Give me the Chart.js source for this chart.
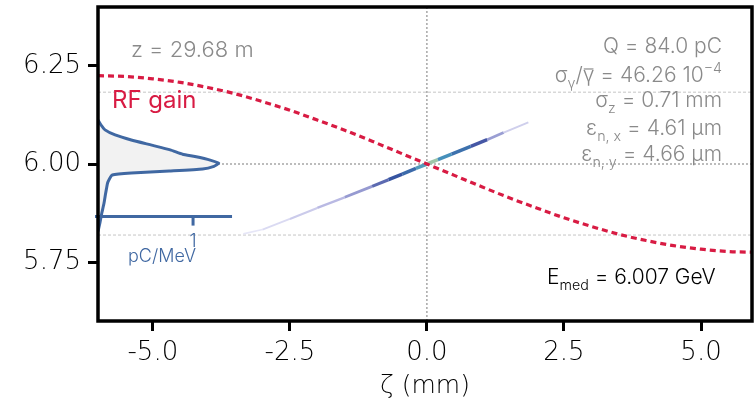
<!DOCTYPE html>
<html>
<head>
<meta charset="utf-8">
<script src="https://cdn.jsdelivr.net/npm/chart.js@4.4.0/dist/chart.umd.min.js"></script>
<style>
html, body { margin: 0; padding: 0; background: #fff; }
#wrap { width: 755px; height: 419px; }
</style>
</head>
<body>
<div id="wrap"><canvas id="chart" width="755" height="419"></canvas></div>
<script>
// RF gain curve: zeta (mm) -> energy (GeV)
const rfZeta = [-6, -5.5, -5, -4.5, -4, -3.5, -3, -2.5, -2, -1.5, -1, -0.5, 0, 0.5, 1, 1.5, 2, 2.5, 3, 3.5, 4, 4.5, 5, 5.5, 6];
const rfEnergy = [6.225, 6.223, 6.217, 6.208, 6.195, 6.179, 6.159, 6.137, 6.112, 6.086, 6.058, 6.029, 6.0, 5.971, 5.942, 5.914, 5.888, 5.863, 5.841, 5.821, 5.805, 5.792, 5.783, 5.777, 5.775];

// longitudinal phase space of the bunch (zeta, energy, relative density)
const beamZeta = [-3.35, -3.0, -2.5, -2.0, -1.5, -1.0, -0.7, -0.45, -0.2, 0.0, 0.2, 0.45, 0.8, 1.1, 1.4, 1.85];
const beamEnergy = [5.822, 5.833, 5.860, 5.888, 5.915, 5.943, 5.960, 5.974, 5.989, 6.0, 6.011, 6.025, 6.045, 6.062, 6.080, 6.106];
const beamDensity = [0.0, 0.06, 0.12, 0.2, 0.3, 0.42, 0.58, 0.7, 0.72, 1.0, 0.86, 0.8, 0.66, 0.45, 0.25, 0.04];

// energy spectrum (GeV -> pC/MeV)
const specEnergy = [6.112, 6.100, 6.087, 6.074, 6.061, 6.048, 6.036, 6.025, 6.019, 6.010, 6.002, 5.994, 5.987, 5.982, 5.977, 5.972, 5.962, 5.951, 5.938, 5.925, 5.900, 5.875, 5.850, 5.828];
const specCharge = [0.0, 0.03, 0.074, 0.18, 0.35, 0.565, 0.76, 0.89, 1.02, 1.18, 1.27, 1.22, 1.1, 0.75, 0.35, 0.15, 0.12, 0.10, 0.09, 0.08, 0.063, 0.04, 0.02, 0.0];

const xTicks = [-5, -2.5, 0, 2.5, 5];
const yTicks = [5.75, 6.0, 6.25];
const guideEnergies = [6.183, 5.819];
const pcAxisEnergy = 5.866;
const pcAxisMax = 1.41;
const pcTicks = [1];

const RED = '#d81b43';
const BLUE = '#4068a2';
const GREY = '#8a8a8a';
const FONT = 'Inter, "DejaVu Sans", sans-serif';
const TICK_FONT = '"DejaVu Sans", sans-serif';

function densityColour(d) {
  const stops = [
    [0.0, [236, 236, 250]],
    [0.3, [175, 175, 222]],
    [0.6, [50, 72, 155]],
    [0.85, [72, 150, 190]],
    [1.0, [232, 240, 150]]
  ];
  for (let i = 1; i < stops.length; i++) {
    if (d <= stops[i][0]) {
      const [d0, c0] = stops[i - 1];
      const [d1, c1] = stops[i];
      const t = (d - d0) / (d1 - d0);
      const c = c0.map((v, k) => Math.round(v + (c1[k] - v) * t));
      return 'rgb(' + c.join(',') + ')';
    }
  }
  return 'rgb(232,240,150)';
}

// parts: [text, mode] with mode 0 normal, 1 subscript, 2 superscript, 3 overlined
function richText(ctx, parts, x, yBase, size, align, colour, weight = 300) {
  const sub = size * 0.68;
  ctx.fillStyle = colour;
  ctx.strokeStyle = colour;
  ctx.textBaseline = 'alphabetic';
  ctx.textAlign = 'left';
  const fontFor = mode => weight + ' ' + (mode == 1 || mode == 2 ? sub : size) + 'px ' + FONT;
  const widths = parts.map(([t, mode]) => {
    ctx.font = fontFor(mode);
    return ctx.measureText(t).width;
  });
  const total = widths.reduce((a, b) => a + b, 0);
  let cx = align == 'right' ? x - total : x;
  parts.forEach(([t, mode], i) => {
    ctx.font = fontFor(mode);
    const dy = mode == 1 ? size * 0.28 : mode == 2 ? -size * 0.42 : 0;
    ctx.fillText(t, cx, yBase + dy);
    if (mode == 3) {
      ctx.lineWidth = 1.2;
      ctx.beginPath();
      ctx.moveTo(cx + 1, yBase - size * 0.62);
      ctx.lineTo(cx + widths[i] - 1, yBase - size * 0.62);
      ctx.stroke();
    }
    cx += widths[i];
  });
}

const overlay = {
  id: 'overlay',
  beforeDatasetsDraw(chart) {
    const { ctx, chartArea: a, scales } = chart;
    const x = scales.x, y = scales.y, x2 = scales.x2;
    ctx.save();
    ctx.lineWidth = 1;
    ctx.strokeStyle = '#c6c6c6';
    ctx.setLineDash([3, 2]);
    for (const e of guideEnergies) {
      const py = y.getPixelForValue(e);
      ctx.beginPath(); ctx.moveTo(a.left, py); ctx.lineTo(a.right, py); ctx.stroke();
    }
    ctx.strokeStyle = '#7a7a7a';
    ctx.setLineDash([2, 2]);
    const px0 = x.getPixelForValue(0), py0 = y.getPixelForValue(6.0);
    ctx.beginPath(); ctx.moveTo(px0, a.top); ctx.lineTo(px0, a.bottom); ctx.stroke();
    ctx.beginPath(); ctx.moveTo(a.left, py0); ctx.lineTo(a.right, py0); ctx.stroke();
    // spectrum fill
    ctx.setLineDash([]);
    const pts = chart.getDatasetMeta(2).data;
    const base = x2.getPixelForValue(0);
    ctx.beginPath();
    ctx.moveTo(base, pts[0].y);
    for (const p of pts) ctx.lineTo(p.x, p.y);
    ctx.lineTo(base, pts[pts.length - 1].y);
    ctx.closePath();
    ctx.fillStyle = '#f2f2f2';
    ctx.fill();
    ctx.restore();
  },
  afterDatasetsDraw(chart) {
    const { ctx, chartArea: a, scales } = chart;
    const y = scales.y, x2 = scales.x2;
    ctx.save();
    // small charge axis of the spectrum
    const py = y.getPixelForValue(pcAxisEnergy);
    ctx.strokeStyle = BLUE;
    ctx.lineWidth = 3;
    ctx.beginPath(); ctx.moveTo(x2.getPixelForValue(0) - 3, py); ctx.lineTo(x2.getPixelForValue(pcAxisMax), py); ctx.stroke();
    ctx.fillStyle = BLUE;
    ctx.textAlign = 'center';
    ctx.textBaseline = 'alphabetic';
    for (const t of pcTicks) {
      const tx = x2.getPixelForValue(t);
      ctx.beginPath(); ctx.moveTo(tx, py); ctx.lineTo(tx, py + 9); ctx.stroke();
      ctx.font = '300 18px ' + FONT;
      ctx.fillText(String(t), tx, py + 30);
      ctx.textAlign = 'right';
      ctx.fillText('pC/MeV', tx + 3, py + 45);
    }
    // labels
    richText(ctx, [['z = 29.68 m', 0]], a.left + 33, 57, 22, 'left', GREY);
    richText(ctx, [['RF gain', 0]], a.left + 14, 108, 24, 'left', RED, 400);
    const rx = a.right - 30;
    richText(ctx, [['Q = 84.0 pC', 0]], rx, 53, 21, 'right', GREY);
    richText(ctx, [['σ', 0], ['γ', 1], ['/', 0], ['γ', 3], [' = 46.26 10', 0], ['−4', 2]], rx, 82, 21, 'right', GREY);
    richText(ctx, [['σ', 0], ['z', 1], [' = 0.71 mm', 0]], rx, 107, 21, 'right', GREY);
    richText(ctx, [['ε', 0], ['n, x', 1], [' = 4.61 μm', 0]], rx, 135, 21, 'right', GREY);
    richText(ctx, [['ε', 0], ['n, y', 1], [' = 4.66 μm', 0]], rx, 161, 21, 'right', GREY);
    richText(ctx, [['E', 0], ['med', 1], [' = 6.007 GeV', 0]], a.left + 449, 284, 21, 'left', '#000');
    // frame
    ctx.strokeStyle = '#000';
    ctx.lineWidth = 3.5;
    ctx.strokeRect(a.left, a.top, a.right - a.left, a.bottom - a.top);
    ctx.restore();
  }
};

const tickFont = { family: TICK_FONT, size: 26, weight: 200 };

function noEdgePadding(s) {
  s.paddingTop = 0; s.paddingBottom = 0; s.paddingLeft = 0; s.paddingRight = 0;
}

new Chart(document.getElementById('chart'), {
  type: 'line',
  data: {
    datasets: [
      {
        label: 'RF gain',
        data: rfZeta.map((z, i) => ({ x: z, y: rfEnergy[i] })),
        xAxisID: 'x', yAxisID: 'y',
        borderColor: RED, borderWidth: 3.2, borderDash: [6, 4],
        pointRadius: 0, cubicInterpolationMode: 'monotone'
      },
      {
        label: 'bunch',
        data: beamZeta.map((z, i) => ({ x: z, y: beamEnergy[i] })),
        xAxisID: 'x', yAxisID: 'y',
        borderWidth: 3, pointRadius: 0,
        borderColor: densityColour(0.5),
        segment: {
          borderColor: c => densityColour((beamDensity[c.p0DataIndex] + beamDensity[c.p1DataIndex]) / 2),
          borderWidth: c => 1.5 + 2 * Math.min(1, (beamDensity[c.p0DataIndex] + beamDensity[c.p1DataIndex]) / 1.2)
        }
      },
      {
        label: 'spectrum',
        data: specCharge.map((q, i) => ({ x: q, y: specEnergy[i] })),
        xAxisID: 'x2', yAxisID: 'y',
        borderColor: BLUE, borderWidth: 3, pointRadius: 0, tension: 0.15
      }
    ]
  },
  options: {
    responsive: false,
    animation: false,
    layout: { padding: { top: 7, right: 3, left: 0, bottom: 0 } },
    plugins: { legend: { display: false }, tooltip: { enabled: false } },
    scales: {
      x: {
        type: 'linear', min: -6, max: 5.93,
        afterBuildTicks: s => { s.ticks = xTicks.map(v => ({ value: v })); },
        afterFit: s => { s.height = 98; noEdgePadding(s); },
        ticks: { font: tickFont, color: '#000', padding: 7, maxRotation: 0, callback: v => v.toFixed(1) },
        grid: { drawOnChartArea: false, tickLength: 10, tickWidth: 3, tickColor: '#000' },
        border: { display: false },
        title: { display: true, text: 'ζ (mm)', color: '#000', font: { family: TICK_FONT, size: 25, weight: 200 }, padding: { top: 18, bottom: 18 } }
      },
      y: {
        type: 'linear', min: 5.6, max: 6.4,
        afterBuildTicks: s => { s.ticks = yTicks.map(v => ({ value: v })); },
        afterFit: s => { s.width = 98; noEdgePadding(s); },
        ticks: { font: tickFont, color: '#000', padding: 7, callback: v => v.toFixed(2) },
        grid: { drawOnChartArea: false, tickLength: 10, tickWidth: 3, tickColor: '#000' },
        border: { display: false }
      },
      x2: { type: 'linear', display: false, min: 0, max: 6.88 }
    }
  },
  plugins: [overlay]
});
</script>
</body>
</html>
